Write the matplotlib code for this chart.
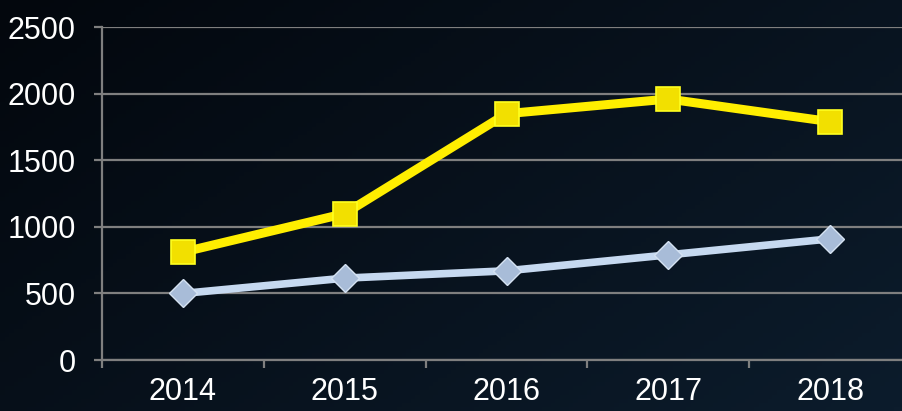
import numpy as np
import matplotlib.pyplot as plt
from matplotlib.colors import LinearSegmentedColormap
from matplotlib import font_manager

years = ['2014', '2015', '2016', '2017', '2018']
yellow_vals = [810, 1100, 1850, 1960, 1790]
blue_vals = [500, 615, 670, 790, 910]
y_ticks = [0, 500, 1000, 1500, 2000, 2500]

names = {f.name for f in font_manager.fontManager.ttflist}
print(sorted(n for n in names if 'Liberation' in n))
plt.rcParams['font.family'] = ['Liberation Sans Narrow', 'Liberation Sans', 'DejaVu Sans']

fig = plt.figure(figsize=(9.03, 4.11), dpi=100)

# background gradient (dark navy, lighter toward bottom right)
bg = fig.add_axes([0, 0, 1, 1])
gx, gy = np.meshgrid(np.linspace(0, 1, 200), np.linspace(0, 1, 100))
grad = (gx * 0.6 + gy * 0.4)
cmap = LinearSegmentedColormap.from_list('bg', ['#03070d', '#0c1c2c'])
bg.imshow(grad, cmap=cmap, aspect='auto', extent=[0, 1, 0, 1], origin='upper')
bg.axis('off')

ax = fig.add_axes([0.113, 0.124, 0.896, 0.810])
ax.patch.set_alpha(0)
x = np.arange(len(years))

ax.plot(x, yellow_vals, color='#ffee00', lw=6.5, zorder=3,
        marker='s', ms=17, mfc='#f2e000', mec='#ffff20', mew=1.2)
ax.plot(x, blue_vals, color='#c6d9f0', lw=5.5, zorder=3,
        marker='D', ms=14, mfc='#a8bcd8', mec='#d5e2f2', mew=1)

ax.set_xlim(-0.5, 4.5)
ax.set_ylim(0, 2500)
ax.set_yticks(y_ticks)
ax.set_xticks(x)
ax.set_xticklabels(years)
ax.set_xticks(np.arange(-0.5, 5, 1), minor=True)
ax.yaxis.grid(True, color='#7f7f7f', lw=1.6)
ax.set_axisbelow(True)

for s in ['top', 'right']:
    ax.spines[s].set_visible(False)
for s in ['left', 'bottom']:
    ax.spines[s].set_color('#7f7f7f')
    ax.spines[s].set_linewidth(1.6)

ax.tick_params(axis='y', colors='#7f7f7f', labelcolor='white', length=6,
               width=1.6, pad=13, labelsize=22)
ax.tick_params(axis='x', which='major', length=0, labelcolor='white',
               labelsize=22, pad=12)
ax.tick_params(axis='x', which='minor', colors='#7f7f7f', length=6, width=1.6)

fig.savefig('out.png', dpi=100)
